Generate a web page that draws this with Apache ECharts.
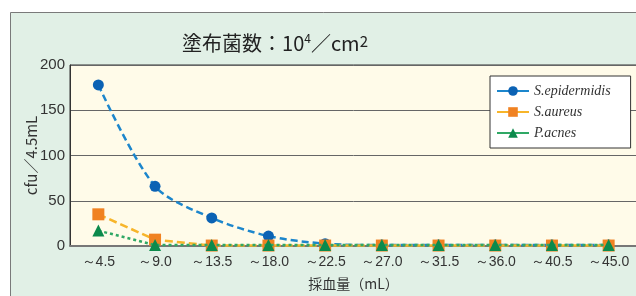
<!DOCTYPE html>
<html>
<head>
<meta charset="utf-8">
<script src="https://cdn.jsdelivr.net/npm/echarts@6/dist/echarts.min.js"></script>
<style>
  html, body { margin: 0; padding: 0; background: #fff; }
  #chart { width: 636px; height: 296px; }
</style>
</head>
<body>
<div id="chart"></div>
<script>
// data
var categories = ["～4.5", "～9.0", "～13.5", "～18.0", "～22.5", "～27.0", "～31.5", "～36.0", "～40.5", "～45.0"];
var epidermidis = [178, 66, 31, 11, 2.5, 1, 1, 1, 1, 1];
var aureus = [35, 7, 0.5, 0.5, 0.5, 0.5, 0.5, 0.5, 0.5, 0.5];
var acnes = [17, 1, 1, 1, 1, 1, 1, 1, 1, 1];
var yTicks = [0, 50, 100, 150, 200];

var chart = echarts.init(document.getElementById("chart"));

var legendText = {
  fontFamily: "Liberation Serif",
  fontStyle: "italic",
  fontSize: 14,
  color: "#333",
};

var option = {
  backgroundColor: "#fff",
  animation: false,
  graphic: [
    {
      type: "rect",
      shape: { x: 10.5, y: 12.5, width: 640, height: 300 },
      style: { fill: "#e1f0e6", stroke: "#7a7a7a", lineWidth: 1 },
      z: -10,
    },
  ],
  title: {
    text: "塗布菌数：10{sup|4}／cm{sq|2}",
    left: 270,
    textAlign: "center",
    top: 27,
    textStyle: {
      fontFamily: "Noto Sans CJK JP",
      fontSize: 20,
      fontWeight: "normal",
      color: "#222",
      rich: {
        sup: { fontSize: 12, verticalAlign: "top", padding: [0, 0, 10, 0], color: "#222", fontFamily: "Noto Sans CJK JP" },
        sq: { fontSize: 15, color: "#222", padding: [0, 0, 4, 0], fontFamily: "Noto Sans CJK JP" },
      },
    },
  },
  legend: {
    orient: "vertical",
    left: 490,
    top: 76,
    padding: [8, 20, 8, 6],
    itemGap: 7,
    itemWidth: 32,
    itemHeight: 12,
    backgroundColor: "#fff",
    borderColor: "#333",
    borderWidth: 1,
    borderRadius: 0,
    lineStyle: { type: "solid", width: 2 },
    textStyle: legendText,
    data: ["S.epidermidis", "S.aureus", "P.acnes"],
  },
  grid: {
    left: 70,
    top: 65,
    width: 567,
    height: 181,
    outerBoundsMode: "none",
    show: true,
    backgroundColor: "#fffbe9",
    borderColor: "#333",
    borderWidth: 1,
  },
  xAxis: {
    type: "category",
    data: categories,
    boundaryGap: true,
    name: "採血量（mL）",
    nameLocation: "middle",
    nameGap: 31,
    nameMoveOverlap: false,
    nameTextStyle: { fontFamily: "Noto Sans CJK JP", fontSize: 14, color: "#333" },
    axisLine: { lineStyle: { color: "#777", width: 2 } },
    axisTick: { inside: true, length: 5, lineStyle: { color: "#555" } },
    axisLabel: {
      interval: 0,
      hideOverlap: false,
      fontFamily: "Liberation Sans",
      fontSize: 14,
      color: "#333",
      margin: 9,
    },
  },
  yAxis: {
    type: "value",
    min: 0,
    max: 200,
    interval: 50,
    name: "cfu／4.5mL",
    nameLocation: "middle",
    nameGap: 31,
    nameMoveOverlap: false,
    nameTextStyle: { fontFamily: "Noto Sans CJK JP", fontSize: 15, color: "#333" },
    axisLine: { show: true, lineStyle: { color: "#333" } },
    axisTick: { show: false },
    axisLabel: {
      fontFamily: "Liberation Sans",
      fontSize: 15,
      color: "#333",
      margin: 5,
      formatter: function (v) { return yTicks.indexOf(v) >= 0 ? v : ""; },
    },
    splitLine: { lineStyle: { color: "#666", width: 1 } },
  },
  series: [
    {
      name: "S.epidermidis",
      type: "line",
      smooth: 0.3,
      data: epidermidis,
      symbol: "circle",
      symbolSize: 11,
      itemStyle: { color: "#0b62b4" },
      lineStyle: { color: "#1c86cc", width: 2.5, type: [7, 4] },
      z: 3,
    },
    {
      name: "S.aureus",
      type: "line",
      data: aureus,
      symbol: "rect",
      symbolSize: 12,
      itemStyle: { color: "#f08222" },
      lineStyle: { color: "#f7b52a", width: 2.5, type: [8, 4] },
      z: 4,
    },
    {
      name: "P.acnes",
      type: "line",
      data: acnes,
      symbol: "triangle",
      symbolSize: 12,
      itemStyle: { color: "#0c8a4c" },
      lineStyle: { color: "#2fa865", width: 2.5, type: [3, 3] },
      z: 5,
    },
  ],
};

chart.setOption(option);
</script>
</body>
</html>
